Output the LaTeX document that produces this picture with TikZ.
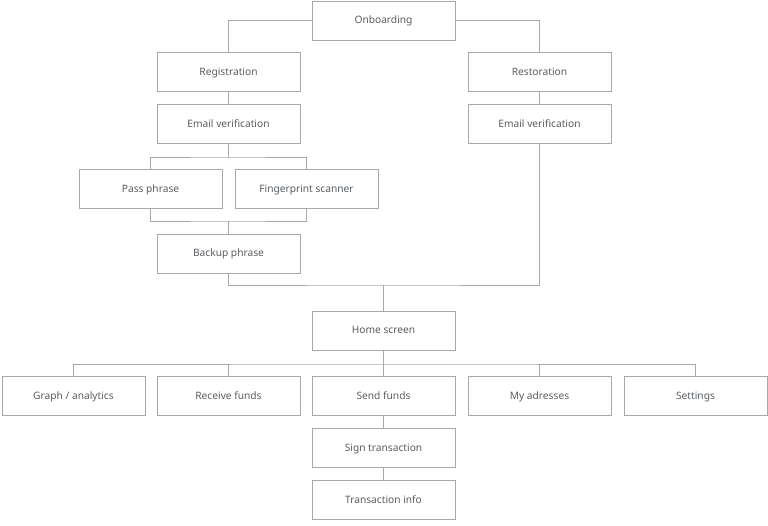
\documentclass[tikz,border=0pt]{standalone}
\usepackage{fontspec}
\setmainfont{Noto Sans}
\definecolor{linegray}{HTML}{A8A8A8}
\definecolor{textgray}{HTML}{5A5E62}
\begin{document}
\begin{tikzpicture}[x=1pt,y=-1pt,
  box/.style={draw=linegray,line width=0.9pt,fill=white,minimum width=143pt,minimum height=39pt,inner sep=0pt,text height=9pt,text depth=2pt,text=textgray,font=\fontsize{10.2}{12}\selectfont},
  conn/.style={draw=linegray,line width=0.9pt}]
\useasboundingbox (0,0) rectangle (768,526);
\node[box] (onb) at (383.5,20.5) {Onboarding};
\node[box] (reg) at (228.5,72) {Registration};
\node[box] (ev1) at (228.5,124) {Email verification};
\node[box] (res) at (539.5,72) {Restoration};
\node[box] (ev2) at (539.5,124) {Email verification};
\node[box] (pass) at (150.5,189) {Pass phrase};
\node[box] (fp) at (306.5,189) {Fingerprint scanner};
\node[box] (backup) at (228.5,253.5) {Backup phrase};
\node[box] (home) at (383.5,330.5) {Home screen};
\node[box] (graph) at (73.5,395.5) {Graph / analytics};
\node[box] (recv) at (228.5,395.5) {Receive funds};
\node[box] (send) at (383.5,395.5) {Send funds};
\node[box] (addr) at (539.5,395.5) {My adresses};
\node[box] (sett) at (695.5,395.5) {Settings};
\node[box] (sign) at (383.5,447.5) {Sign transaction};
\node[box] (info) at (383.5,499.5) {Transaction info};
\coordinate (b1) at (228.5,157);
\coordinate (j) at (228.5,221);
\coordinate (m) at (383.5,285);
\coordinate (r) at (383.5,364);
\path[conn] (onb.west) -| (reg.north);
\path[conn] (onb.east) -| (res.north);
\path[conn] (reg.south) -- (ev1.north);
\path[conn] (res.south) -- (ev2.north);
\path[conn] (ev1.south) -- (b1);
\path[conn] (pass.north) |- (b1) -| (fp.north);
\path[conn] (pass.south) |- (j) -| (fp.south);
\path[conn] (j) -- (backup.north);
\path[conn] (backup.south) |- (m) -| (ev2.south);
\path[conn] (m) -- (home.north);
\path[conn] (home.south) -- (send.north);
\path[conn] (graph.north) |- (r) -| (sett.north);
\path[conn] (recv.north) -- (recv.north |- r);
\path[conn] (addr.north) -- (addr.north |- r);
\path[conn] (send.south) -- (sign.north);
\path[conn] (sign.south) -- (info.north);
\end{tikzpicture}
\end{document}
